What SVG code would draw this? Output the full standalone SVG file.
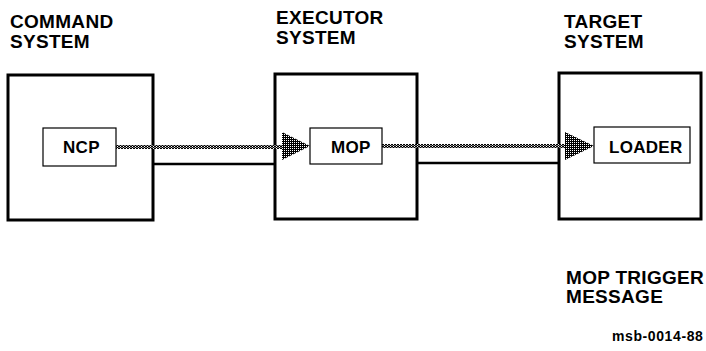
<svg xmlns="http://www.w3.org/2000/svg" width="706" height="351" viewBox="0 0 706 351">
<style>
.sys{fill:#fff;stroke:#000;stroke-width:3}
.mod{fill:#fff;stroke:#000;stroke-width:1.2}
.lbl{font-family:"Liberation Sans",Arial,sans-serif;font-size:19px;font-weight:bold;fill:#000;letter-spacing:0.3px}
.lbl2{font-family:"Liberation Sans",Arial,sans-serif;font-size:17px;font-weight:bold;fill:#000;letter-spacing:0.3px}
.id{font-family:"Liberation Sans",Arial,sans-serif;font-size:14px;font-weight:bold;fill:#000;letter-spacing:0.6px}
.link{stroke:#000;stroke-width:2.5;fill:none}
.msg{fill:url(#chk)}
.head{fill:url(#chk2)}
</style>
<defs>
<pattern id="chk" width="3" height="2" patternUnits="userSpaceOnUse">
<rect width="3" height="2" fill="#000"/>
<rect x="0" y="0" width="1" height="1" fill="#fff"/>
<rect x="1.5" y="1" width="1" height="1" fill="#fff"/>
</pattern>
<pattern id="chk2" width="2" height="2" patternUnits="userSpaceOnUse">
<rect width="2" height="2" fill="#000"/>
<rect width="1" height="1" fill="#fff"/>
</pattern>
</defs>
<g id="label-command"><text class="lbl" x="10" y="28">COMMAND</text><text class="lbl" x="10" y="48">SYSTEM</text></g>
<g id="label-executor"><text class="lbl" x="276" y="24">EXECUTOR</text><text class="lbl" x="276" y="44">SYSTEM</text></g>
<g id="label-target"><text class="lbl" x="564" y="28">TARGET</text><text class="lbl" x="564" y="47.5">SYSTEM</text></g>
<g id="command-system"><rect class="sys" x="8" y="75" width="145" height="145"/></g>
<g id="executor-system"><rect class="sys" x="275" y="74" width="142" height="145"/></g>
<g id="target-system"><rect class="sys" x="559" y="73" width="142" height="146"/></g>
<g id="connectors">
<line class="link" x1="153" y1="164" x2="275" y2="164"/>
<line class="link" x1="417" y1="163" x2="559" y2="163"/>
<rect class="msg" x="116" y="145" width="168" height="4"/>
<polygon class="head" points="282,132 310,146 282,160"/>
<rect class="msg" x="382" y="144" width="185" height="4"/>
<polygon class="head" points="565,132 594,146 565,160"/>
</g>
<g id="ncp"><rect class="mod" x="43" y="128" width="73" height="38"/><text class="lbl2" x="63" y="153">NCP</text></g>
<g id="mop"><rect class="mod" x="310" y="128" width="72" height="36"/><text class="lbl2" x="331" y="152.5">MOP</text></g>
<g id="loader"><rect class="mod" x="594" y="127" width="96" height="36"/><text class="lbl2" x="609" y="152.5">LOADER</text></g>
<g id="label-trigger"><text class="lbl" x="566" y="284">MOP TRIGGER</text><text class="lbl" x="566" y="303">MESSAGE</text></g>
<text class="id" x="612" y="341">msb-0014-88</text>
</svg>
